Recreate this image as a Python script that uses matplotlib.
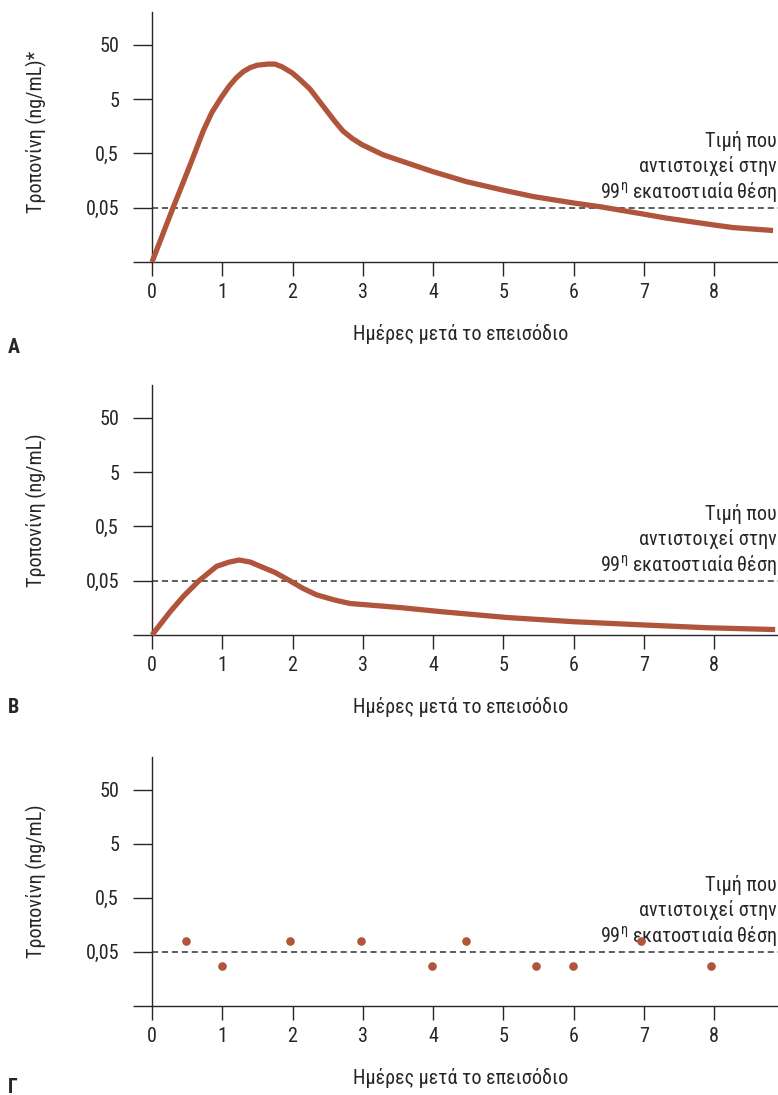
import matplotlib
matplotlib.use('Agg')
import matplotlib.pyplot as plt
from matplotlib import font_manager
from matplotlib.ticker import FixedLocator, FixedFormatter, NullLocator

installed = {f.name for f in font_manager.fontManager.ttflist}
fams = [n for n in ['Roboto Condensed', 'Liberation Sans Narrow', 'DejaVu Sans'] if n in installed]
plt.rcParams['font.family'] = fams
plt.rcParams['font.stretch'] = 'condensed'
plt.rcParams['mathtext.fontset'] = 'custom'
plt.rcParams['mathtext.rm'] = fams[0]

# --- data ---
days_a = [0, 0.15, 0.30, 0.54, 0.73, 0.85, 0.98, 1.1, 1.2, 1.3, 1.4, 1.5, 1.65, 1.75,
          1.85, 1.99, 2.1, 2.25, 2.49, 2.6, 2.72, 2.85, 2.99, 3.29, 3.67, 4.0, 4.48,
          5.0, 5.43, 6.0, 6.38, 7.0, 7.33, 8.0, 8.27, 8.84]
trop_a = [0.005, 0.0158, 0.05, 0.3, 1.3, 2.8, 5.2, 8.7, 12.3, 16, 19, 21, 22, 22,
          19.6, 15.3, 11.6, 7.6, 3.0, 1.96, 1.28, 0.94, 0.72, 0.47, 0.32, 0.23, 0.15,
          0.105, 0.08, 0.061, 0.052, 0.038, 0.032, 0.024, 0.0215, 0.019]

days_b = [0, 0.26, 0.45, 0.67, 0.92, 1.1, 1.24, 1.4, 1.54, 1.75, 1.96, 2.15, 2.34,
          2.6, 2.82, 3.53, 4.1, 5.05, 5.99, 6.95, 7.9, 8.87]
trop_b = [0.005, 0.0135, 0.026, 0.05, 0.092, 0.11, 0.12, 0.11, 0.092, 0.071, 0.05,
          0.036, 0.0275, 0.022, 0.019, 0.016, 0.0135, 0.0105, 0.0088, 0.0077, 0.0068,
          0.0063]

days_c = [0.49, 1.0, 1.97, 2.97, 3.98, 4.47, 5.47, 5.99, 6.96, 7.96]
trop_c = [0.08, 0.028, 0.08, 0.08, 0.028, 0.08, 0.028, 0.028, 0.08, 0.028]

cutoff = 0.05
ytick_vals = [0.005, 0.05, 0.5, 5, 50]
ytick_labels = ['', '0,05', '0,5', '5', '50']
xtick_vals = [0, 1, 2, 3, 4, 5, 6, 7, 8]

ylabels = ['Τροπονίνη (ng/mL)*', 'Τροπονίνη (ng/mL)', 'Τροπονίνη (ng/mL)']
letters = ['A', 'B', 'Γ']
xlabel = 'Ημέρες μετά το επεισόδιο'
note_lines = ['Τιμή που', 'αντιστοιχεί στην', '99$^{\\mathrm{η}}$ εκατοστιαία θέση']

RED = '#b0553b'
INK = '#262626'
W, H = 778, 1095
FS = 14.5 if fams[0] != 'DejaVu Sans' else 13.5

fig = plt.figure(figsize=(W / 100, H / 100), dpi=100)

# axes boxes in pixels: top, bottom
boxes = [(12, 262), (385, 635), (757, 1006)]
letter_y = [353, 713, 1093]

axes = []
for (top, bot) in boxes:
    ax = fig.add_axes([152 / W, 1 - bot / H, (W - 152) / W, (bot - top) / H])
    axes.append(ax)

for i, ax in enumerate(axes):
    ax.set_yscale('log')
    ax.set_ylim(0.005, 200)
    ax.set_xlim(0, 8.91)
    ax.yaxis.set_major_locator(FixedLocator(ytick_vals))
    ax.yaxis.set_major_formatter(FixedFormatter(ytick_labels))
    ax.yaxis.set_minor_locator(NullLocator())
    ax.set_xticks(xtick_vals)
    ax.set_xticklabels([str(v) for v in xtick_vals])
    for s in ['top', 'right']:
        ax.spines[s].set_visible(False)
    for s in ['left', 'bottom']:
        ax.spines[s].set_color(INK)
        ax.spines[s].set_linewidth(1.0)
    ax.tick_params(axis='y', length=13.7, width=1.0, color=INK, pad=10,
                   labelsize=FS, labelcolor=INK)
    ax.tick_params(axis='x', length=10, width=1.0, color=INK, pad=5,
                   labelsize=FS, labelcolor=INK)

    ax.axhline(cutoff, color='#333333', lw=1.1, ls=(0, (4, 2.5)), zorder=1)

    for k, line in enumerate(note_lines):
        ax.annotate(line, xy=(1, cutoff), xycoords=('axes fraction', 'data'),
                    xytext=(-1, 7.2 + (2 - k) * 18.4), textcoords='offset points',
                    ha='right', va='baseline', fontsize=FS, color=INK)

    ly = 0.522 if i == 0 else 0.5
    ax.text(-0.184, ly, ylabels[i], transform=ax.transAxes, rotation=90,
            ha='center', va='center', fontsize=FS, color=INK)

    ax.annotate(xlabel, xy=(0.493, 0), xycoords='axes fraction',
                xytext=(0, -56.5), textcoords='offset points',
                ha='center', va='baseline', fontsize=FS, color=INK)

    fig.text(8 / W, 1 - letter_y[i] / H, letters[i], fontsize=FS,
             fontweight='bold', color=INK, va='baseline', ha='left')

axes[0].plot(days_a, trop_a, color=RED, lw=3.8, solid_capstyle='butt',
             solid_joinstyle='round', clip_on=False, zorder=3)
axes[1].plot(days_b, trop_b, color=RED, lw=3.8, solid_capstyle='butt',
             solid_joinstyle='round', clip_on=False, zorder=3)
axes[2].plot(days_c, trop_c, 'o', color=RED, ms=6.2, mec='none', zorder=3)

fig.savefig('out.png', dpi=100)
